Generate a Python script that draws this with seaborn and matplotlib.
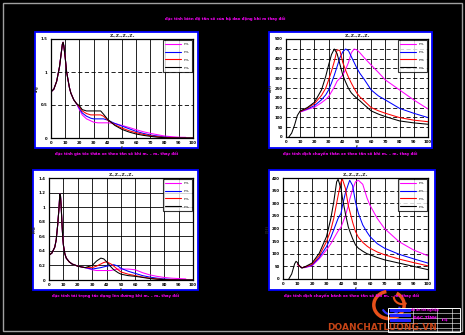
import numpy as np
import pandas as pd
import matplotlib
matplotlib.use("Agg")
import matplotlib.pyplot as plt
import seaborn as sns
from matplotlib.patches import Rectangle, Arc
from matplotlib.lines import Line2D

nan = np.nan

SERIES = ["m₁", "m₂", "m₃", "m₄"]
COLORS = ["#ff00ff", "#0000ff", "#ff0000", "#000000"]

# --- Panel A: body acceleration response ---
A_F = [0, 2, 4, 6, 7, 8, 8.5, 9, 10, 11, 12, 13, 14, 16, 18,
       20, 22, 25, 28, 30, 33, 35, 37, 40, 45, 50, 55, 60, 65, 70, 75, 80, 85, 90, 95, 100]
A_HEAD = [0.70, 0.74, 0.86, 1.08, 1.25, 1.42, 1.45, 1.40, 1.22, 1.00, 0.88, 0.76, 0.68, 0.58, 0.52]
A_M1 = [0.43, 0.35, 0.29, 0.26, 0.24, 0.23, 0.23, 0.23, 0.23, 0.22, 0.19, 0.16, 0.125, 0.095, 0.07, 0.05, 0.03, 0.02, 0.012, 0.01, nan]
A_M2 = [0.45, 0.38, 0.33, 0.30, 0.29, 0.29, 0.29, 0.29, 0.27, 0.22, 0.18, 0.14, 0.10, 0.07, 0.045, 0.03, 0.015, 0.006, 0.002, 0.0, 0.0]
A_M3 = [0.47, 0.41, 0.37, 0.35, 0.35, 0.35, 0.35, 0.33, 0.27, 0.20, 0.15, 0.11, 0.08, 0.055, 0.035, 0.02, 0.01, 0.004, 0.0, 0.0, 0.0]
A_M4 = [0.49, 0.43, 0.41, 0.41, 0.41, 0.41, 0.41, 0.36, 0.28, 0.19, 0.13, 0.09, 0.06, 0.04, 0.025, 0.012, 0.004, 0.0, 0.0, 0.0, 0.0]

# --- Panel B: body displacement response ---
B_F = [2, 4, 6, 8, 10, 12, 15, 20, 25, 28, 30, 32, 34, 36, 38, 40, 42, 44, 46, 48,
       50, 52, 55, 60, 65, 70, 80, 90, 100]
B_M1 = [nan, nan, nan, nan, 128, 132, 140, 152, 175, 192, 206, 230, 255, 285, 300, 316, 345, 380, 430, 449,
        444, 430, 405, 367, 330, 291, 240, 189, 143]
B_M2 = [nan, nan, nan, nan, 130, 135, 143, 160, 190, 215, 240, 275, 315, 360, 405, 435, 449, 440, 410, 380,
        350, 325, 295, 240, 210, 189, 146, 121, 99]
B_M3 = [nan, nan, nan, nan, 130, 137, 147, 170, 212, 250, 291, 335, 385, 445, 440, 380, 340, 305, 275, 248,
        223, 205, 185, 150, 134, 121, 99, 86, 78]
B_M4 = [0, 20, 60, 110, 133, 140, 150, 177, 240, 310, 367, 420, 449, 425, 370, 316, 280, 248, 225, 210,
        197, 185, 165, 133, 117, 104, 82, 72, 65]

# --- Panel C: dynamic wheel load ---
C_F = [0, 2, 4, 5, 6, 7, 7.5, 8, 8.5, 9, 9.5, 10, 11, 12, 14, 16, 20, 25,
       30, 33, 36, 38, 40, 43, 45, 48, 50, 55, 60, 65, 70, 75, 80, 85, 90, 95, 100]
C_HEAD = [0.34, 0.37, 0.45, 0.55, 0.75, 1.0, 1.18, 1.15, 0.99, 0.78, 0.60, 0.48, 0.36, 0.30, 0.25, 0.22, 0.19, 0.17]
C_M1 = [0.14, 0.13, 0.13, 0.13, 0.13, 0.13, 0.14, 0.15, 0.15, 0.15, 0.14, 0.10, 0.07, 0.05, 0.035, 0.025, 0.02, 0.015, nan]
C_M2 = [0.15, 0.16, 0.17, 0.18, 0.19, 0.20, 0.21, 0.19, 0.16, 0.12, 0.09, 0.06, 0.04, 0.025, 0.015, 0.008, 0.004, 0.002, 0.0]
C_M3 = [0.17, 0.19, 0.22, 0.24, 0.25, 0.22, 0.19, 0.14, 0.11, 0.08, 0.06, 0.04, 0.025, 0.015, 0.008, 0.003, 0.0, 0.0, 0.0]
C_M4 = [0.20, 0.26, 0.30, 0.29, 0.25, 0.18, 0.14, 0.10, 0.08, 0.06, 0.05, 0.035, 0.02, 0.01, 0.005, 0.0, 0.0, 0.0, 0.0]

# --- Panel D: wheel displacement response ---
D_F = [4, 6, 8, 9, 10, 11, 13, 15, 20, 25, 30, 33, 35, 37, 38, 40, 41, 43, 45, 46,
       48, 50, 52, 55, 58, 60, 65, 70, 80, 90, 100]
D_M1 = [nan, nan, nan, nan, 58, 52, 45, 45, 52, 80, 115, 140, 160, 180, 190, 205, 220, 250, 290, 315,
        355, 385, 391, 375, 320, 292, 240, 200, 148, 115, 92]
D_M2 = [nan, nan, nan, nan, 60, 52, 45, 46, 55, 85, 128, 165, 195, 225, 240, 260, 290, 340, 375, 391,
        370, 305, 260, 214, 185, 168, 140, 122, 98, 80, 63]
D_M3 = [nan, nan, nan, nan, 60, 52, 45, 47, 58, 92, 148, 195, 240, 300, 330, 385, 395, 360, 292, 270,
        225, 188, 165, 145, 130, 122, 107, 96, 79, 65, 52]
D_M4 = [0, 20, 60, 70, 65, 55, 43, 48, 63, 102, 168, 240, 305, 385, 395, 358, 320, 260, 207, 190,
        160, 135, 122, 110, 100, 96, 85, 76, 63, 50, 37]

X_TICKS = list(range(0, 101, 10))
Y_TICKS_A = [0, 0.5, 1, 1.5]
Y_TICKS_B = list(range(0, 501, 50))
Y_TICKS_C = [0, 0.2, 0.4, 0.6, 0.8, 1, 1.2, 1.4]
Y_TICKS_D = list(range(0, 401, 50))

PANEL_TITLE = "Z₁,Z₂,Z₃,Z₄"
MAIN_TITLE = "đặc tính biên độ tần số của hệ dao động khi m thay đổi"
CAPTIONS = [
    "đặc tính gia tốc thân xe theo tần số khi m₁ – m₄ thay đổi",
    "đặc tính dịch chuyển thân xe theo tần số khi m₁ – m₄ thay đổi",
    "đặc tính tải trọng tác dụng lên đường khi m₁ – m₄ thay đổi",
    "đặc tính dịch chuyển bánh xe theo tần số khi m₁ – m₄ thay đổi",
]
YLABELS = ["z̈/g", "z(f)", "F/G", "ξ(f)"]


def long_frame(freq, series_vals):
    rows = []
    for name, vals in zip(SERIES, series_vals):
        for f, v in zip(freq, vals):
            if not np.isnan(v):
                rows.append((f, v, name))
    return pd.DataFrame(rows, columns=["f", "val", "series"])


panels = [
    dict(df=long_frame(A_F, [A_HEAD + A_M1, A_HEAD + A_M2, A_HEAD + A_M3, A_HEAD + A_M4]),
         yt=Y_TICKS_A, ylim=(0, 1.5), hdash=True,
         frame=(35, 32, 198, 148), ax=(51, 39, 193, 138)),
    dict(df=long_frame(B_F, [B_M1, B_M2, B_M3, B_M4]),
         yt=Y_TICKS_B, ylim=(0, 500), hdash=True,
         frame=(269, 32, 432, 148), ax=(286, 39, 428, 137)),
    dict(df=long_frame(C_F, [C_HEAD + C_M1, C_HEAD + C_M2, C_HEAD + C_M3, C_HEAD + C_M4]),
         yt=Y_TICKS_C, ylim=(0, 1.4), hdash=False,
         frame=(33, 170, 198, 290), ax=(49, 178, 193, 280)),
    dict(df=long_frame(D_F, [D_M1, D_M2, D_M3, D_M4]),
         yt=Y_TICKS_D, ylim=(0, 400), hdash=True,
         frame=(269, 170, 435, 290), ax=(283, 178, 428, 279)),
]

sns.set_style("white")
plt.rcParams["font.family"] = ["DejaVu Sans"]

W, H = 465, 335
fig = plt.figure(figsize=(W / 100, H / 100), dpi=100, facecolor="black")


def fig_rect(x0, y0, x1, y1):
    return (x0 / W, 1 - y1 / H, (x1 - x0) / W, (y1 - y0) / H)


# drawing-sheet outer frame
l, b, w, h = fig_rect(3, 3, 462, 331)
fig.add_artist(Rectangle((l, b), w, h, transform=fig.transFigure, fill=False,
                         edgecolor="#a0a0a0", lw=1.0, zorder=-2))

fig.text(225 / W, 1 - 19 / H, MAIN_TITLE, color="#ff00ff", fontsize=2.8,
         fontweight="bold", ha="center", va="center")

palette = dict(zip(SERIES, COLORS))
for i, p in enumerate(panels):
    l, b, w, h = fig_rect(*p["frame"])
    fig.add_artist(Rectangle((l, b), w, h, transform=fig.transFigure, facecolor="white",
                             edgecolor="#0000ff", lw=1.3, zorder=-1))
    ax = fig.add_axes(fig_rect(*p["ax"]))
    sns.lineplot(data=p["df"], x="f", y="val", hue="series", hue_order=SERIES,
                 palette=palette, estimator=None, sort=True, lw=0.75, ax=ax)
    ax.set_xlim(0, 100)
    ax.set_ylim(*p["ylim"])
    ax.set_xticks(X_TICKS)
    ax.set_yticks(p["yt"])
    ax.set_xticklabels([str(t) for t in X_TICKS])
    ax.set_yticklabels([f"{t:g}" for t in p["yt"]])
    ax.tick_params(labelsize=2.8, length=1.5, width=0.5, pad=1, colors="black")
    for lab in ax.get_xticklabels() + ax.get_yticklabels():
        lab.set_fontweight("bold")
    ax.grid(True, axis="x", color="black", linestyle="-", lw=0.6)
    ax.grid(True, axis="y", color="black",
            linestyle=(0, (5, 3)) if p["hdash"] else "-", lw=0.6)
    for s in ax.spines.values():
        s.set_color("black")
        s.set_linewidth(0.9)
    ax.set_xlabel("f", fontsize=3, labelpad=0.5, fontweight="bold")
    ax.set_ylabel(YLABELS[i], fontsize=3, labelpad=1.5, fontweight="bold")
    ax.set_title(PANEL_TITLE, fontsize=3.2, pad=1.5, fontweight="bold")
    handles = [Line2D([], [], color=c, lw=0.8) for c in COLORS]
    leg = ax.legend(handles, SERIES, loc="upper right", fontsize=3, handlelength=4,
                    handletextpad=0.6, borderpad=0.5, labelspacing=0.9,
                    borderaxespad=0.3, frameon=True, fancybox=False)
    leg.get_frame().set_edgecolor("black")
    leg.get_frame().set_linewidth(0.8)
    fx0, fy0, fx1, fy1 = p["frame"]
    fig.text((fx0 + fx1) / 2 / W, 1 - (fy1 + 6) / H, CAPTIONS[i], color="#ff00ff",
             fontsize=2.8, fontweight="bold", ha="center", va="center")

# emblem behind the title block
ax_logo = fig.add_axes(fig_rect(370, 288, 408, 322))
ax_logo.set_axis_off()
ax_logo.set_xlim(-1, 1)
ax_logo.set_ylim(-1, 1)
ax_logo.add_patch(Arc((0, 0), 1.6, 1.6, theta1=100, theta2=420, color="#e8501a", lw=2.5))
ax_logo.add_patch(Arc((0.1, -0.1), 0.9, 0.9, theta1=200, theta2=360, color="#3030ff", lw=1.5))
ax_logo.add_patch(Arc((0.7, 0.5), 0.9, 0.9, theta1=180, theta2=300, color="#e8501a", lw=1.5))

fig.text(382 / W, 1 - 327 / H, "DOANCHATLUONG.VN", color="#e8501a", fontsize=6.5,
         fontweight="bold", ha="center", va="center", alpha=0.85)

# title block
l, b, w, h = fig_rect(388, 308, 460, 332)
fig.add_artist(Rectangle((l, b), w, h, transform=fig.transFigure, fill=False,
                         edgecolor="white", lw=0.7))
for yy in (313, 318, 323, 328):
    fig.add_artist(Line2D([388 / W, 460 / W], [1 - yy / H, 1 - yy / H],
                          transform=fig.transFigure, color="white", lw=0.4))
for xx in (413, 437, 452):
    fig.add_artist(Line2D([xx / W, xx / W], [1 - 308 / H, 1 - 332 / H],
                          transform=fig.transFigure, color="white", lw=0.4))
for yy in (309, 314, 319):
    l, b, w, h = fig_rect(390, yy, 411, yy + 3)
    fig.add_artist(Rectangle((l, b), w, h, transform=fig.transFigure,
                             facecolor="#2020ff", edgecolor="none"))
fig.text(425 / W, 1 - 310.5 / H, "đồ án tốt nghiệp", color="#ff00ff", fontsize=2.2,
         ha="center", va="center", fontweight="bold")
fig.text(425 / W, 1 - 318 / H, "ĐẶC TÍNH", color="#ff00ff", fontsize=3.2,
         ha="center", va="center", fontweight="bold")
fig.text(444 / W, 1 - 320 / H, "tỉ lệ", color="#ff00ff", fontsize=2.2,
         ha="center", va="center", fontweight="bold")

fig.savefig("out.png", dpi=100, facecolor="black")
